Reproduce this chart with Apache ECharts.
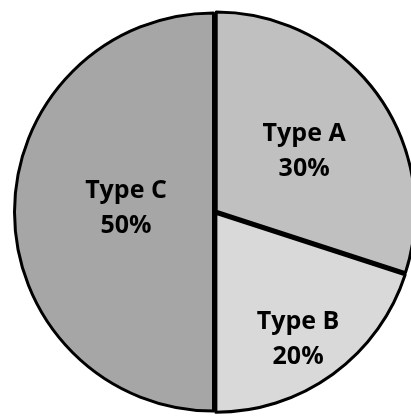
<!DOCTYPE html>
<html>
<head>
<meta charset="utf-8">
<script src="https://cdn.jsdelivr.net/npm/echarts@6/dist/echarts.min.js"></script>
<style>
html,body{margin:0;padding:0;background:#fff;}
#chart{width:411px;height:416px;}
</style>
</head>
<body>
<div id="chart"></div>
<script>
const categories = ['Type A', 'Type B', 'Type C'];
const values = [30, 20, 50];
const colors = ['#c0c0c0', '#d9d9d9', '#a6a6a6'];
const labelShifts = [[5, 1], [22, 43], [15, -4]];

const chart = echarts.init(document.getElementById('chart'), null, {renderer: 'canvas'});
chart.setOption({
  animation: false,
  series: [{
    type: 'pie',
    center: [215, 212],
    radius: 199,
    startAngle: 90,
    clockwise: true,
    selectedMode: 'multiple',
    selectedOffset: 1.5,
    emphasis: {scale: false, disabled: true},
    itemStyle: {borderColor: '#000', borderWidth: 3},
    label: {
      show: true,
      position: 'inside',
      formatter: '{b}\n{d}%',
      fontFamily: 'Open Sans',
      fontWeight: 'bold',
      fontSize: 25,
      lineHeight: 35,
      color: '#000'
    },
    labelLayout: function (p) {
      const s = labelShifts[p.dataIndex];
      return {dx: s[0], dy: s[1]};
    },
    labelLine: {show: false},
    data: categories.map((c, i) => ({
      name: c,
      value: values[i],
      selected: true,
      itemStyle: {color: colors[i]}
    }))
  }]
});
</script>
</body>
</html>
